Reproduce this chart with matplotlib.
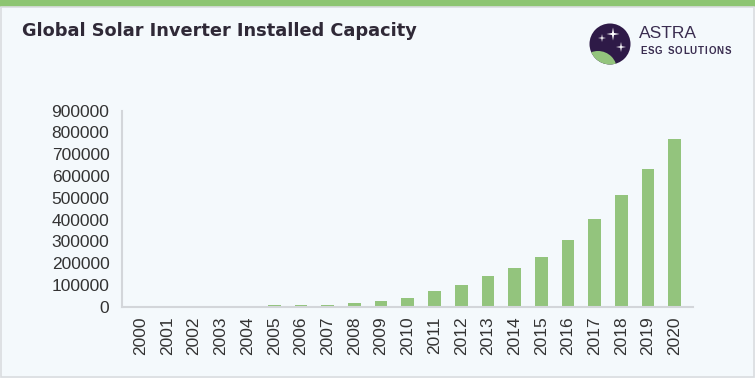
import numpy as np
import matplotlib.pyplot as plt
from matplotlib.patches import Circle, Rectangle

# Installed capacity per year
years = ['2000', '2001', '2002', '2003', '2004', '2005', '2006', '2007', '2008', '2009', '2010',
         '2011', '2012', '2013', '2014', '2015', '2016', '2017', '2018', '2019', '2020']
capacity = [0, 0, 0, 0, 0, 6000, 6000, 9000, 17000, 26000, 40000,
            72000, 101000, 141000, 178000, 228000, 306000, 404000, 511000, 632000, 770000]
y_ticks = [0, 100000, 200000, 300000, 400000, 500000, 600000, 700000, 800000, 900000]

W, H = 755, 378
bg = '#F4F9FC'
green = '#93C47D'
dark = '#2F2937'
purple = '#2E1A47'

fig = plt.figure(figsize=(W / 100, H / 100), dpi=100)
fig.patch.set_facecolor(bg)

# top green strip and card border
fig.patches.append(Rectangle((0, 1 - 7 / H), 1, 7 / H, transform=fig.transFigure,
                             facecolor='#8DC572', edgecolor='none'))
fig.patches.append(Rectangle((0.5 / W, 1.5 / H), 1 - 1.5 / W, 1 - 8.5 / H, transform=fig.transFigure,
                             facecolor='none', edgecolor='#DADDE0', linewidth=1.2))

fig.text(22 / W, 1 - 31 / H, 'Global Solar Inverter Installed Capacity', fontsize=12.75,
         fontweight='heavy', color=dark, family='DejaVu Sans', va='center', ha='left')

# main chart
ax = fig.add_axes([122 / W, 1 - 306.7 / H, (692.7 - 122) / W, (306.7 - 110.7) / H])
ax.set_facecolor(bg)
x = np.arange(len(years))
ax.bar(x, capacity, width=0.475, color=green)
ax.set_xlim(-0.7, 20.67)
ax.set_ylim(0, 900000)
ax.set_yticks(y_ticks)
ax.set_yticklabels([str(v) for v in y_ticks])
ax.set_xticks(x)
ax.set_xticklabels(years, rotation=90)
ax.tick_params(axis='both', length=0, labelsize=12.5, labelcolor='#333333')
ax.tick_params(axis='y', pad=9)
ax.tick_params(axis='x', pad=7)
for lab in ax.get_xticklabels() + ax.get_yticklabels():
    lab.set_family('Liberation Sans')
for s in ['top', 'right']:
    ax.spines[s].set_visible(False)
for s in ['left', 'bottom']:
    ax.spines[s].set_color('#D3D6DA')
    ax.spines[s].set_linewidth(1.5)

# logo
lax = fig.add_axes([0, 0, 1, 1])
lax.set_xlim(0, W)
lax.set_ylim(H, 0)
lax.axis('off')
circ = Circle((610, 44), 20.5, facecolor=purple, edgecolor='none')
lax.add_patch(circ)
g = Circle((598, 70), 19, facecolor=green, edgecolor='none')
lax.add_patch(g)
g.set_clip_path(circ)


def star(cx, cy, r):
    t = np.linspace(0, 2 * np.pi, 9)[:-1]
    rr = np.where(np.arange(8) % 2 == 0, r, r * 0.22)
    lax.fill(cx + rr * np.sin(t), cy - rr * np.cos(t), color='white', lw=0)


star(613, 34, 6.5)
star(602, 38, 4)
star(621, 47, 5)

lax.text(639, 34, 'ASTRA', fontsize=12.5, color='#3A2D50', family='Liberation Sans',
         va='center', ha='left')

# letter-spaced subtitle, placed one character at a time
renderer = fig.canvas.get_renderer()
cx = 640
for ch in 'ESG SOLUTIONS':
    t = lax.text(cx, 51, ch, fontsize=7, fontweight='bold', color='#3A2D50',
                 family='Liberation Sans', va='center', ha='left')
    cx += t.get_window_extent(renderer).width + 0.9 if ch != ' ' else 4

fig.savefig('out.png', dpi=100, facecolor=bg)
